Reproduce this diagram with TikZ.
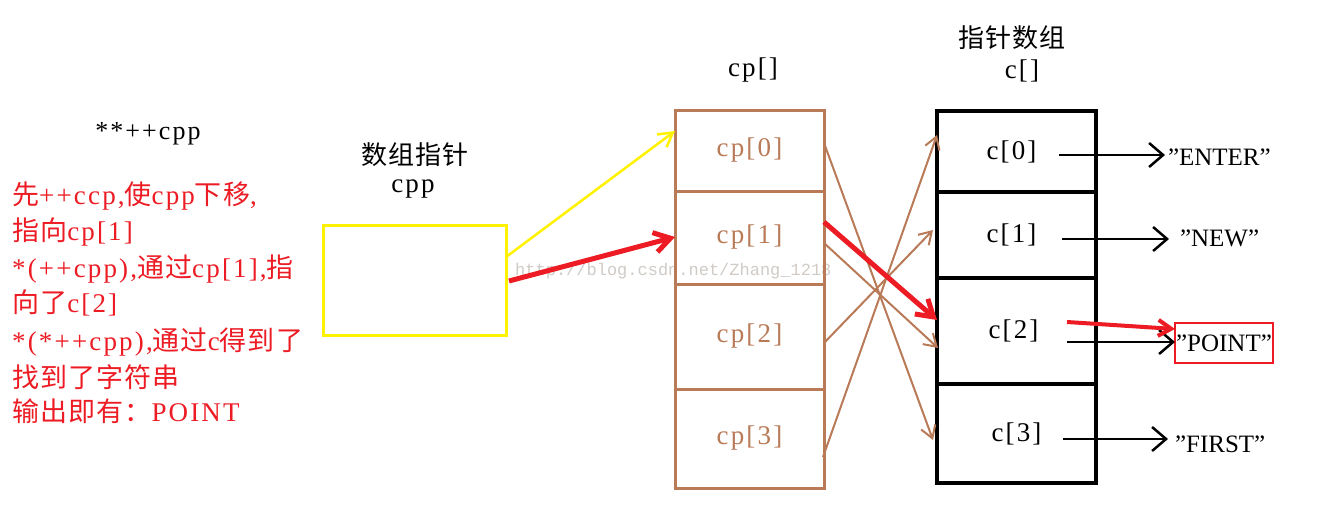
\documentclass[tikz,border=0pt]{standalone}
\usepackage{fontspec}
\setmainfont{Liberation Serif}[LetterSpace=8]
\newfontfamily\strfont{Liberation Serif}
\newfontfamily\cj{Noto Sans CJK SC}[LetterSpace=4]
\newfontfamily\wmfont{Liberation Mono}
\usetikzlibrary{arrows.meta,calc}
\definecolor{pbrown}{RGB}{185,122,87}
\definecolor{pred}{RGB}{237,28,36}
\definecolor{pyellow}{RGB}{255,242,0}
\definecolor{wmgray}{RGB}{208,203,198}
\tikzset{
  lat/.style={inner sep=0pt, font=\fontsize{27}{30}\selectfont},
  cjk/.style={inner sep=0pt, font=\cj\fontsize{26}{30}\selectfont},
  redtxt/.style={inner sep=0pt, anchor=base west, text=pred, font=\fontsize{27}{30}\selectfont},
  cpcell/.style={draw=pbrown, line width=3pt, minimum width=149pt, inner sep=0pt, outer sep=0pt, text=pbrown, font=\fontsize{27}{30}\selectfont},
  ccell/.style={draw=black, line width=4.5pt, minimum width=159pt, inner sep=0pt, outer sep=0pt, font=\fontsize{27}{30}\selectfont},
  strnode/.style={inner ysep=0pt, inner xsep=0pt, outer sep=0pt, anchor=west, font=\strfont\fontsize{25}{28}\selectfont},
  brownarr/.style={draw=pbrown, line width=2pt, -{Straight Barb[length=12pt,width=15pt]}},
  blackarr/.style={draw=black, line width=2.5pt, -{Straight Barb[length=14pt,width=24pt]}},
  redarr/.style={draw=pred, line width=5pt, -{Straight Barb[length=16pt,width=20pt]}},
  redarrthin/.style={draw=pred, line width=4pt, -{Straight Barb[length=13pt,width=16pt]}},
  yelarr/.style={draw=pyellow, line width=2.5pt, -{Straight Barb[length=14pt,width=16pt]}}
}
\begin{document}
\begin{tikzpicture}[x=1pt,y=-1pt]
\useasboundingbox (0,0) rectangle (1320,522);
\fill[white] (0,0) rectangle (1320,522);

% watermark
\node[inner sep=0pt, anchor=west, text=wmgray, font=\wmfont\fontsize{17}{20}\selectfont] (wm) at (515,271) {http://blog.csdn.net/Zhang\_1218};

% left texts
\node[lat, anchor=base, font=\fontsize{26}{30}\selectfont] (title) at (148,139) {**++cpp};
\node[redtxt] (t1) at (12,204) {{\cj 先}++ccp,{\cj 使}cpp{\cj 下移},};
\node[redtxt] (t2) at (12,240) {{\cj 指向}cp[1]};
\node[redtxt] (t3) at (12,277) {*(++cpp),{\cj 通过}cp[1],{\cj 指}};
\node[redtxt] (t4) at (12,312) {{\cj 向了}c[2]};
\node[redtxt] (t5) at (12,350) {*(*++cpp),{\cj 通过}c{\cj 得到了}};
\node[redtxt] (t6) at (12,387) {{\cj 找到了字符串}};
\node[redtxt] (t7) at (12,421) {{\cj 输出即有：}POINT};

% cpp pointer
\node[cjk] (cpplbl) at (415,155) {数组指针};
\node[lat] (cpplbl2) at (413,189) {cpp};
\node[draw=pyellow, line width=3pt, minimum width=183pt, minimum height=110pt, inner sep=0pt, outer sep=0pt] (cpp) at (414.5,280) {};

% cp array
\node[lat] (cplbl) at (753,70) {cp[]};
\node[cpcell, minimum height=81pt] (cp0) at (749.5,150.5) {cp[0]};
\node[cpcell, minimum height=93pt] (cp1) at (749.5,237.5) {cp[1]};
\node[cpcell, minimum height=105pt] (cp2) at (749.5,336.5) {cp[2]};
\node[cpcell, minimum height=99pt] (cp3) at (749.5,438.5) {cp[3]};

% c array
\node[cjk] (clbl) at (1012,38) {指针数组};
\node[lat] (clbl2) at (1022,71) {c[]};
\node[ccell, minimum height=81pt] (c0) at (1016.5,151.5) {c[0]\hspace*{10pt}};
\node[ccell, minimum height=86pt] (c1) at (1016.5,235) {c[1]\hspace*{10pt}};
\node[ccell, minimum height=106pt] (c2) at (1016.5,331) {c[2]\hspace*{6pt}};
\node[ccell, minimum height=99pt] (c3) at (1016.5,433.5) {c[3]};

% strings
\node[strnode, inner xsep=3pt] (s0) at (1165,157) {”ENTER”};
\node[strnode, inner xsep=11pt] (s1) at (1169,238) {”NEW”};
\node[draw=pred, line width=2.5pt, minimum width=98pt, minimum height=40pt, inner sep=0pt, outer sep=0pt, font=\strfont\fontsize{25}{28}\selectfont] (s2) at (1224,343) {”POINT”};
\node[strnode, inner xsep=7pt] (s3) at (1168,444) {”FIRST”};

% brown pointer arrows cp -> c
\draw[brownarr] ($(cp0.east)+(0,-7.5)$) -- ($(c3.west)+(-4,6.5)$);
\draw[brownarr] ($(cp1.east)+(0,5.5)$) -- ($(c2.west)+(1,17)$);
\draw[brownarr] ($(cp2.east)+(0,6.5)$) -- ($(c1.west)+(-4,-5)$);
\draw[brownarr] ($(cp3.east)+(-1,18.5)$) -- ($(c0.west)+(0,-16.5)$);

% yellow and red from cpp
\draw[yelarr] ($(cpp.east)+(0,-23)$) -- ($(cp0.west)+(0,-19.5)$);
\draw[redarr] ($(cpp.east)+(3,1)$) -- ($(cp1.west)+(0,-0.5)$);
\draw[redarr] ($(cp1.east)+(0,-15.5)$) -- ($(c2.west)+(0,-11)$);

% c -> strings
\coordinate (a0) at (1059,155);
\coordinate (a1) at (1062,239);
\coordinate (a2) at (1067,342);
\coordinate (a3) at (1063,439);
\coordinate (r2) at (1067,322);
\draw[blackarr] (a0) -- (a0 -| s0.west);
\draw[blackarr] (a1) -- (a1 -| s1.west);
\draw[blackarr] (a2) -- (a2 -| s2.west);
\draw[blackarr] (a3) -- (a3 -| s3.west);
\draw[redarrthin] (r2) -- ($(s2.west)+(0,-14)$);
\end{tikzpicture}
\end{document}
